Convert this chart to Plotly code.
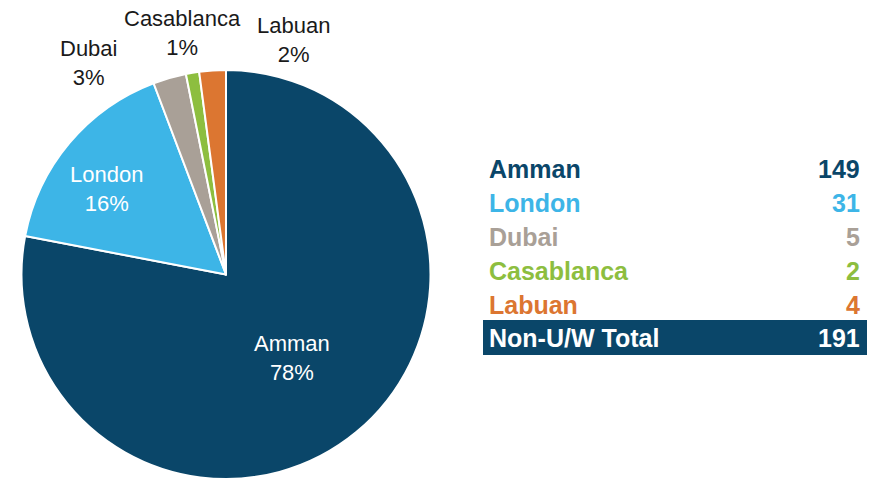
import plotly.graph_objects as go

# ---- data ----
offices = ["Amman", "London", "Dubai", "Casablanca", "Labuan"]
counts = [149, 31, 5, 2, 4]
total_label = "Non-U/W Total"

# ---- styling ----
colors = ["#0A4669", "#3DB5E7", "#A9A097", "#8DBE3F", "#DC7631"]
label_font_colors = ["white", "white", "#1a1a1a", "#1a1a1a", "#1a1a1a"]
# label positions in page pixels (x, y from top)
label_pos_px = [(292, 358), (106, 189), (88, 63), (182, 33), (293, 40)]
row_y_px = [169, 203, 237, 271, 305, 338]

W, H = 881, 479
FONT = "Liberation Sans, Arial, sans-serif"

def px_x(x):
    return x / W

def px_y(y):
    return 1 - y / H

total = sum(counts)

fig = go.Figure()
cx, cy, r = 226, 274.5, 204.5
fig.add_trace(go.Pie(
    labels=offices,
    values=counts,
    sort=False,
    direction="clockwise",
    rotation=0,
    marker=dict(colors=colors, line=dict(color="white", width=2)),
    textinfo="none",
    hoverinfo="label+value+percent",
    showlegend=False,
    domain=dict(x=[px_x(cx - r), px_x(cx + r)], y=[max(0, px_y(cy + r)), px_y(cy - r)]),
))

annotations = []
for name, val, (lx, ly), fc in zip(offices, counts, label_pos_px, label_font_colors):
    pct = round(100 * val / total)
    annotations.append(dict(
        x=px_x(lx), y=px_y(ly), xref="paper", yref="paper",
        text=f"{name}<br>{pct}%", showarrow=False,
        xanchor="center", yanchor="middle", align="center",
        font=dict(family=FONT, size=22, color=fc),
    ))

# table on the right
rows = list(zip(offices, counts, colors))
for (name, val, col), ry in zip(rows, row_y_px[:-1]):
    annotations.append(dict(
        x=px_x(487), y=px_y(ry), xref="paper", yref="paper",
        text=f"<b>{name}</b>", showarrow=False, xanchor="left", yanchor="middle",
        font=dict(family=FONT, size=25, color=col),
    ))
    annotations.append(dict(
        x=px_x(862), y=px_y(ry), xref="paper", yref="paper",
        text=f"<b>{val}</b>", showarrow=False, xanchor="right", yanchor="middle",
        font=dict(family=FONT, size=25, color=col),
    ))

ty = row_y_px[-1]
annotations.append(dict(
    x=px_x(487), y=px_y(ty), xref="paper", yref="paper",
    text=f"<b>{total_label}</b>", showarrow=False, xanchor="left", yanchor="middle",
    font=dict(family=FONT, size=25, color="white"),
))
annotations.append(dict(
    x=px_x(862), y=px_y(ty), xref="paper", yref="paper",
    text=f"<b>{total}</b>", showarrow=False, xanchor="right", yanchor="middle",
    font=dict(family=FONT, size=25, color="white"),
))

shapes = [dict(
    type="rect", xref="paper", yref="paper",
    x0=px_x(483), x1=px_x(867), y0=px_y(355), y1=px_y(320),
    fillcolor=colors[0], line=dict(width=0), layer="below",
)]

fig.update_layout(
    width=W, height=H,
    margin=dict(l=0, r=0, t=0, b=0),
    paper_bgcolor="white", plot_bgcolor="white",
    annotations=annotations, shapes=shapes,
)

fig.write_html("out.html", config={"displayModeBar": False},
               post_script="document.body.style.margin='0';")
